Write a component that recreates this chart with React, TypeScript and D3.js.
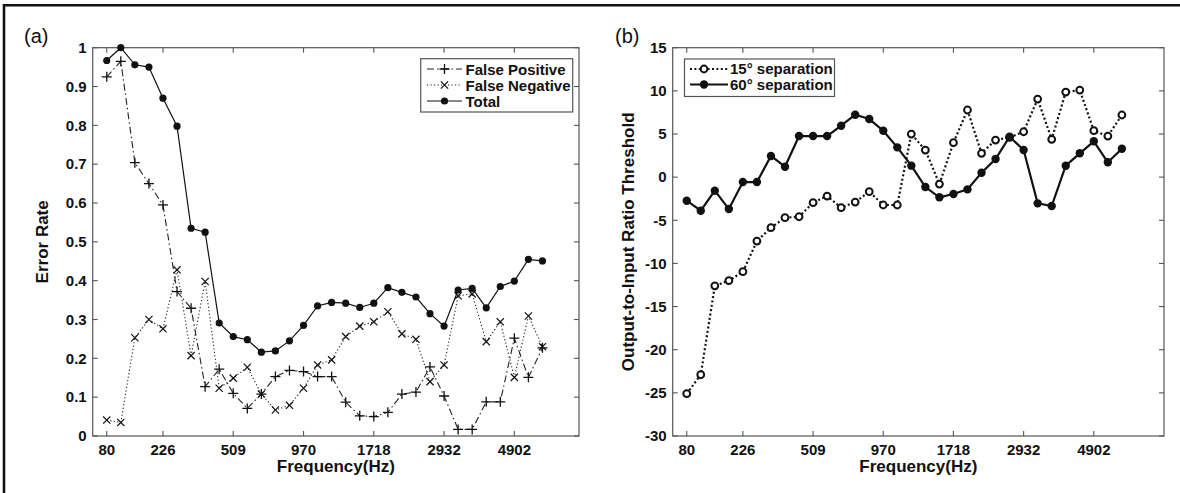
import React from "react";
import * as d3 from "d3";

// ---------- data ----------
const channelIdx = d3.range(1, 33);
const xTickIdx = [1, 5, 10, 15, 20, 25, 30];
const xTickLabels = ["80", "226", "509", "970", "1718", "2932", "4902"];

const falsePositive = [0.925, 0.965, 0.704, 0.65, 0.595, 0.372, 0.329, 0.127, 0.172, 0.11, 0.071, 0.108, 0.153, 0.169, 0.166, 0.153, 0.153, 0.087, 0.052, 0.05, 0.061, 0.108, 0.113, 0.178, 0.103, 0.017, 0.017, 0.088, 0.088, 0.252, 0.151, 0.227];
const falseNegative = [0.041, 0.035, 0.253, 0.3, 0.276, 0.428, 0.207, 0.398, 0.123, 0.149, 0.177, 0.108, 0.067, 0.079, 0.123, 0.183, 0.196, 0.256, 0.283, 0.294, 0.32, 0.263, 0.249, 0.14, 0.183, 0.361, 0.366, 0.243, 0.294, 0.151, 0.309, 0.23];
const totalError = [0.967, 1.0, 0.956, 0.95, 0.87, 0.798, 0.535, 0.525, 0.291, 0.256, 0.248, 0.216, 0.219, 0.245, 0.285, 0.335, 0.344, 0.342, 0.331, 0.342, 0.382, 0.37, 0.358, 0.315, 0.283, 0.376, 0.38, 0.33, 0.385, 0.399, 0.455, 0.451];

const sep15 = [-25.1, -22.9, -12.6, -12.0, -10.96, -7.41, -5.86, -4.7, -4.59, -2.96, -2.19, -3.54, -2.89, -1.69, -3.23, -3.23, 4.99, 3.14, -0.8, 3.99, 7.78, 2.76, 4.3, 4.61, 5.26, 9.05, 4.38, 9.86, 10.09, 5.38, 4.76, 7.2];
const sep60 = [-2.73, -3.89, -1.57, -3.7, -0.57, -0.57, 2.45, 1.21, 4.76, 4.76, 4.76, 5.96, 7.23, 6.73, 5.38, 3.45, 1.33, -1.15, -2.34, -1.96, -1.42, 0.51, 2.1, 4.68, 3.14, -3.04, -3.35, 1.32, 2.76, 4.15, 1.72, 3.29];

const yTicksA = [0, 0.1, 0.2, 0.3, 0.4, 0.5, 0.6, 0.7, 0.8, 0.9, 1];
const yTicksB = [-30, -25, -20, -15, -10, -5, 0, 5, 10, 15];

const FONT = "'Liberation Sans', Arial, Helvetica, sans-serif";
const AXIS = "#555";

const plusPath = "M-5,0H5M0,-5V5";
const crossPath = "M-3.6,-3.6L3.6,3.6M-3.6,3.6L3.6,-3.6";

function Frame({ x0, x1, y0, y1, xs, ys, yTicks, yFmt }: any) {
  return (
    <g>
      <rect x={x0} y={y1} width={x1 - x0} height={y0 - y1} fill="none" stroke={AXIS} strokeWidth={1.2} />
      {xTickIdx.map((t, i) => (
        <g key={"xt" + i}>
          <line x1={xs(t)} x2={xs(t)} y1={y0} y2={y0 - 5} stroke={AXIS} strokeWidth={1.1} />
          <line x1={xs(t)} x2={xs(t)} y1={y1} y2={y1 + 5} stroke={AXIS} strokeWidth={1.1} />
          <text x={xs(t)} y={y0 + 19} textAnchor="middle" fontFamily={FONT} fontWeight="bold" fontSize={15} fill="#111">
            {xTickLabels[i]}
          </text>
        </g>
      ))}
      {yTicks.map((t: number, i: number) => (
        <g key={"yt" + i}>
          <line x1={x0} x2={x0 + 5} y1={ys(t)} y2={ys(t)} stroke={AXIS} strokeWidth={1.1} />
          <line x1={x1} x2={x1 - 5} y1={ys(t)} y2={ys(t)} stroke={AXIS} strokeWidth={1.1} />
          <text x={x0 - 6} y={ys(t) + 5.3} textAnchor="end" fontFamily={FONT} fontWeight="bold" fontSize={15} fill="#111">
            {yFmt(t)}
          </text>
        </g>
      ))}
      <text x={(x0 + x1) / 2} y={472} textAnchor="middle" fontFamily={FONT} fontWeight="bold" fontSize={17} fill="#111">
        Frequency(Hz)
      </text>
    </g>
  );
}

export default function App() {
  const top = 47.7;
  const bottom = 436;

  // panel a
  const ax0 = 92.7, ax1 = 579;
  const xa = d3.scaleLinear().domain([0, 34.6]).range([ax0, ax1]);
  const ya = d3.scaleLinear().domain([0, 1]).range([bottom, top]);
  const lineA = (vals: number[]) =>
    d3.line<number>().x((_, i) => xa(channelIdx[i])).y((v) => ya(v))(vals) || "";

  // panel b
  const bx0 = 672.7, bx1 = 1164;
  const xb = d3.scaleLinear().domain([0, 35]).range([bx0, bx1]);
  const yb = d3.scaleLinear().domain([-30, 15]).range([bottom, top]);
  const lineB = (vals: number[]) =>
    d3.line<number>().x((_, i) => xb(channelIdx[i])).y((v) => yb(v))(vals) || "";

  return (
    <svg width={1180} height={493} style={{ position: "absolute", left: 0, top: 0, background: "#fff" }}>
      <rect x={0} y={0} width={1180} height={493} fill="#fff" />
      {/* outer frame */}
      <path d="M4,500V5.2H1190" fill="none" stroke="#111" strokeWidth={2.6} />

      {/* ---------- panel (a) ---------- */}
      <text x={24} y={43} fontFamily={FONT} fontSize={20} fill="#111">(a)</text>
      <Frame x0={ax0} x1={ax1} y0={bottom} y1={top} xs={xa} ys={ya} yTicks={yTicksA} yFmt={(t: number) => (t === 0 ? "0" : t === 1 ? "1" : d3.format(".1f")(t))} />
      <text transform={`translate(48,${(top + bottom) / 2}) rotate(-90)`} textAnchor="middle" fontFamily={FONT} fontWeight="bold" fontSize={17} fill="#111">
        Error Rate
      </text>

      <path d={lineA(falseNegative)} fill="none" stroke="#222" strokeWidth={1.1} strokeDasharray="1.2,2.3" />
      <path d={lineA(falsePositive)} fill="none" stroke="#222" strokeWidth={1.1} strokeDasharray="7,3,1.5,3" />
      <path d={lineA(totalError)} fill="none" stroke="#111" strokeWidth={1.2} />
      {falseNegative.map((v, i) => (
        <path key={"fn" + i} d={crossPath} transform={`translate(${xa(channelIdx[i])},${ya(v)})`} stroke="#111" strokeWidth={1.2} fill="none" />
      ))}
      {falsePositive.map((v, i) => (
        <path key={"fp" + i} d={plusPath} transform={`translate(${xa(channelIdx[i])},${ya(v)})`} stroke="#111" strokeWidth={1.3} fill="none" />
      ))}
      {totalError.map((v, i) => (
        <circle key={"te" + i} cx={xa(channelIdx[i])} cy={ya(v)} r={3.6} fill="#111" />
      ))}

      {/* legend a */}
      <g>
        <rect x={420.7} y={58.7} width={152} height={53.3} fill="#fff" stroke={AXIS} strokeWidth={1.2} />
        <line x1={427} x2={462} y1={69} y2={69} stroke="#222" strokeWidth={1.1} strokeDasharray="7,3,1.5,3" />
        <path d={plusPath} transform="translate(444.5,69)" stroke="#111" strokeWidth={1.3} fill="none" />
        <text x={465.5} y={74.5} fontFamily={FONT} fontWeight="bold" fontSize={15} fill="#111">False Positive</text>
        <line x1={427} x2={462} y1={85} y2={85} stroke="#222" strokeWidth={1.1} strokeDasharray="1.2,2.3" />
        <path d={crossPath} transform="translate(444.5,85)" stroke="#111" strokeWidth={1.2} fill="none" />
        <text x={465.5} y={90.5} fontFamily={FONT} fontWeight="bold" fontSize={15} fill="#111">False Negative</text>
        <line x1={427} x2={462} y1={101} y2={101} stroke="#111" strokeWidth={1.2} />
        <circle cx={444.5} cy={101} r={3.6} fill="#111" />
        <text x={465.5} y={106.5} fontFamily={FONT} fontWeight="bold" fontSize={15} fill="#111">Total</text>
      </g>

      {/* ---------- panel (b) ---------- */}
      <text x={615} y={43} fontFamily={FONT} fontSize={20} fill="#111">(b)</text>
      <Frame x0={bx0} x1={bx1} y0={bottom} y1={top} xs={xb} ys={yb} yTicks={yTicksB} yFmt={(t: number) => String(t)} />
      <text transform={`translate(634,${(top + bottom) / 2}) rotate(-90)`} textAnchor="middle" fontFamily={FONT} fontWeight="bold" fontSize={17} fill="#111">
        Output-to-Input Ratio Threshold
      </text>

      <path d={lineB(sep15)} fill="none" stroke="#111" strokeWidth={2.2} strokeDasharray="2,2.4" />
      <path d={lineB(sep60)} fill="none" stroke="#111" strokeWidth={2.2} />
      {sep15.map((v, i) => (
        <circle key={"s15" + i} cx={xb(channelIdx[i])} cy={yb(v)} r={3.4} fill="#fff" stroke="#111" strokeWidth={2} />
      ))}
      {sep60.map((v, i) => (
        <circle key={"s60" + i} cx={xb(channelIdx[i])} cy={yb(v)} r={4.2} fill="#111" />
      ))}

      {/* legend b */}
      <g>
        <rect x={684.5} y={59} width={150} height={37.5} fill="#fff" stroke={AXIS} strokeWidth={1.2} />
        <line x1={690} x2={728} y1={69} y2={69} stroke="#111" strokeWidth={2.2} strokeDasharray="2,2.4" />
        <circle cx={704} cy={69} r={3.4} fill="#fff" stroke="#111" strokeWidth={2} />
        <text x={730} y={74.3} fontFamily={FONT} fontWeight="bold" fontSize={15} fill="#111">15° separation</text>
        <line x1={690} x2={728} y1={84.5} y2={84.5} stroke="#111" strokeWidth={2.2} />
        <circle cx={704} cy={84.5} r={4.2} fill="#111" />
        <text x={730} y={89.8} fontFamily={FONT} fontWeight="bold" fontSize={15} fill="#111">60° separation</text>
      </g>
    </svg>
  );
}
